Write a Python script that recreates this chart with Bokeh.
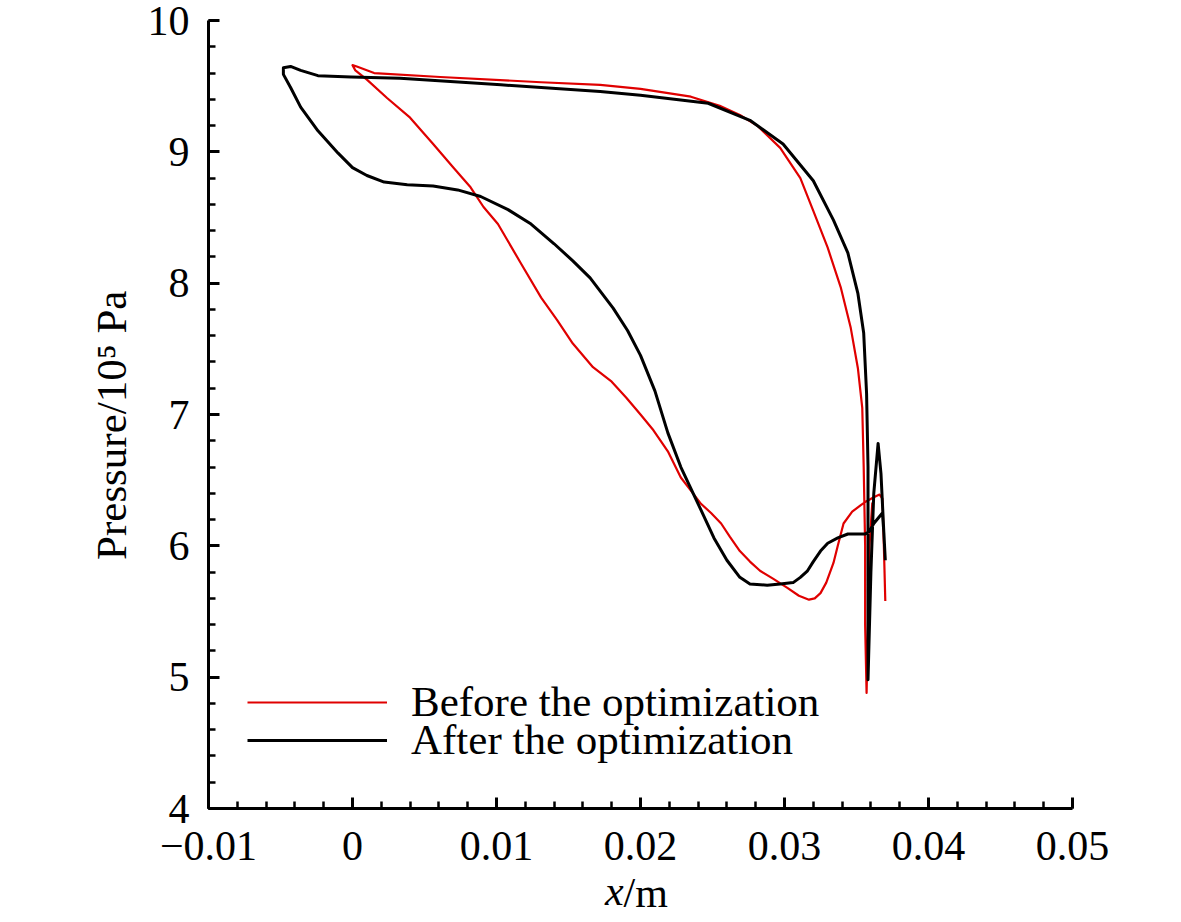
from bokeh.plotting import figure
from bokeh.models import (Range1d, SingleIntervalTicker, FixedTicker, CustomJSTickFormatter,
                          Legend, LegendItem, LinearAxis)
from bokeh.embed import file_html
from bokeh.resources import INLINE

# ---- data ----
before_x = [0.0370, 0.0369, 0.0368, 0.0366, 0.0362, 0.0357, 0.0353, 0.0347, 0.0341, 0.0337,
            0.0334, 0.0329, 0.0325, 0.0321, 0.0317, 0.0310, 0.0302, 0.0292, 0.0283, 0.0276,
            0.0269, 0.0262, 0.0256, 0.0249, 0.0242, 0.0235, 0.0228, 0.0219, 0.0209, 0.0200,
            0.0190, 0.0180, 0.0167, 0.0153, 0.0142, 0.0131, 0.0117, 0.0101, 0.0091, 0.0082,
            0.0070, 0.0056, 0.0040, 0.0024, 0.0010, 0.0002, 0.0000, 0.0003, 0.0015, 0.0061,
            0.0131, 0.0172, 0.0200, 0.0235, 0.0255, 0.0269, 0.0281, 0.0297, 0.0311, 0.0320,
            0.0330, 0.0339, 0.0346, 0.0351, 0.0354, 0.0355, 0.0356, 0.0356, 0.0357, 0.0358,
            0.0359, 0.0361]
before_y = [5.58, 6.00, 6.36, 6.39, 6.37, 6.34, 6.31, 6.26, 6.17, 6.00,
            5.87, 5.72, 5.64, 5.60, 5.59, 5.62, 5.68, 5.75, 5.81, 5.88,
            5.96, 6.07, 6.17, 6.25, 6.32, 6.42, 6.52, 6.72, 6.88, 7.00,
            7.13, 7.25, 7.36, 7.54, 7.72, 7.89, 8.15, 8.45, 8.58, 8.73,
            8.88, 9.06, 9.26, 9.41, 9.55, 9.62, 9.66, 9.65, 9.60, 9.57,
            9.53, 9.51, 9.48, 9.42, 9.35, 9.28, 9.20, 9.03, 8.80, 8.55,
            8.27, 7.97, 7.66, 7.35, 7.05, 6.60, 6.00, 5.40, 4.88, 5.40,
            6.00, 6.33]

after_x = [0.0370, 0.0369, 0.0368, 0.0365, 0.0362, 0.0359, 0.0356, 0.0350, 0.0344, 0.0337,
           0.0330, 0.0325, 0.0320, 0.0316, 0.0311, 0.0306, 0.0297, 0.0288, 0.0276, 0.0269,
           0.0260, 0.0251, 0.0240, 0.0228, 0.0219, 0.0210, 0.0200, 0.0191, 0.0181, 0.0165,
           0.0153, 0.0140, 0.0124, 0.0108, 0.0089, 0.0073, 0.0056, 0.0038, 0.0022, 0.0010,
           0.0000, -0.0010, -0.0024, -0.0036, -0.0043, -0.0048, -0.0048, -0.0043, -0.0036, -0.0024,
           -0.0001, 0.0033, 0.0103, 0.0172, 0.0200, 0.0247, 0.0276, 0.0299, 0.0320, 0.0334,
           0.0344, 0.0351, 0.0355, 0.0357, 0.0358, 0.0358, 0.0358, 0.0360, 0.0362, 0.0365,
           0.0367, 0.0369, 0.0370]
after_y = [5.89, 6.10, 6.25, 6.21, 6.17, 6.11, 6.09, 6.09, 6.09, 6.06,
           6.02, 5.96, 5.88, 5.81, 5.76, 5.72, 5.71, 5.70, 5.71, 5.76,
           5.89, 6.06, 6.32, 6.60, 6.86, 7.18, 7.45, 7.64, 7.81, 8.04,
           8.17, 8.30, 8.45, 8.56, 8.66, 8.71, 8.74, 8.75, 8.77, 8.82,
           8.88, 8.99, 9.16, 9.34, 9.49, 9.59, 9.64, 9.65, 9.62, 9.58,
           9.57, 9.56, 9.51, 9.46, 9.43, 9.37, 9.24, 9.06, 8.78, 8.48,
           8.23, 7.92, 7.62, 7.16, 6.60, 5.80, 4.98, 5.80, 6.40, 6.78,
           6.55, 6.10, 5.89]

series_labels = ["Before the optimization", "After the optimization"]
y_label = "Pressure/10\u2075 Pa\u00a0\u00a0"
NBSP = "\u00a0"
x_label_var = "x" + NBSP * 5     # italic part, padded to sit left of centre
x_label_unit = NBSP + "/m"       # upright part, padded to sit right of centre

FONT = "Liberation Serif"

p = figure(width=1165, height=922, output_backend="svg", toolbar_location=None,
           x_range=Range1d(-0.01, 0.05), y_range=Range1d(4, 10),
           min_border_left=208, min_border_right=93,
           min_border_top=20, min_border_bottom=114)
p.outline_line_color = None
p.grid.visible = False
p.background_fill_color = "white"
p.border_fill_color = "white"

r_before = p.line(before_x, before_y, line_color="#e00000", line_width=2.2,
                  line_join="round")
r_after = p.line(after_x, after_y, line_color="black", line_width=3,
                 line_join="round")

p.xaxis.ticker = SingleIntervalTicker(interval=0.01, num_minor_ticks=5)
p.yaxis.ticker = SingleIntervalTicker(interval=1, num_minor_ticks=5)
p.xaxis.formatter = CustomJSTickFormatter(code="""
if (Math.abs(tick) < 1e-12) { return "0"; }
const s = Math.abs(tick).toFixed(2);
return (tick < 0 ? "\u2212" : "") + s;
""")

for ax in (p.xaxis[0], p.yaxis[0]):
    ax.axis_line_width = 3
    ax.axis_line_color = "black"
    ax.major_tick_line_width = 3
    ax.minor_tick_line_width = 2.5
    ax.major_tick_line_color = "black"
    ax.minor_tick_line_color = "black"
    ax.major_tick_in = 11
    ax.major_tick_out = 0
    ax.minor_tick_in = 7
    ax.minor_tick_out = 0
    ax.major_label_text_font = FONT
    ax.major_label_text_font_size = "42px"
    ax.major_label_text_color = "black"

p.xaxis.major_label_standoff = 23
p.yaxis.major_label_standoff = 19

p.yaxis.axis_label = y_label
p.yaxis.axis_label_text_font = FONT
p.yaxis.axis_label_text_font_size = "43px"
p.yaxis.axis_label_text_font_style = "normal"
p.yaxis.axis_label_text_color = "black"
p.yaxis.axis_label_standoff = 10

# x-axis title "x/m": italic x and upright /m, carried by two tick-less axes
def label_axis(text, style, standoff):
    return LinearAxis(ticker=FixedTicker(ticks=[]), axis_line_color=None,
                      major_tick_line_color=None, minor_tick_line_color=None,
                      major_label_text_font_size="0px",
                      axis_label=text, axis_label_text_font=FONT,
                      axis_label_text_font_size="42px",
                      axis_label_text_font_style=style,
                      axis_label_text_color="black",
                      axis_label_standoff=standoff)

p.add_layout(label_axis(x_label_var, "italic", 5), "below")
p.add_layout(label_axis(x_label_unit, "normal", -47), "below")

common = dict(glyph_width=140, label_standoff=24, spacing=0, padding=0, margin=0,
              border_line_color=None, background_fill_alpha=0,
              label_text_font=FONT, label_text_font_size="43px",
              label_text_color="black")
legend_a = Legend(items=[LegendItem(label=series_labels[0], renderers=[r_before])],
                  location=(39, 82), **common)
legend_b = Legend(items=[LegendItem(label=series_labels[1], renderers=[r_after])],
                  location=(39, 44), **common)
p.add_layout(legend_a)
p.add_layout(legend_b)

open("out.html", "w").write(file_html(p, INLINE))
